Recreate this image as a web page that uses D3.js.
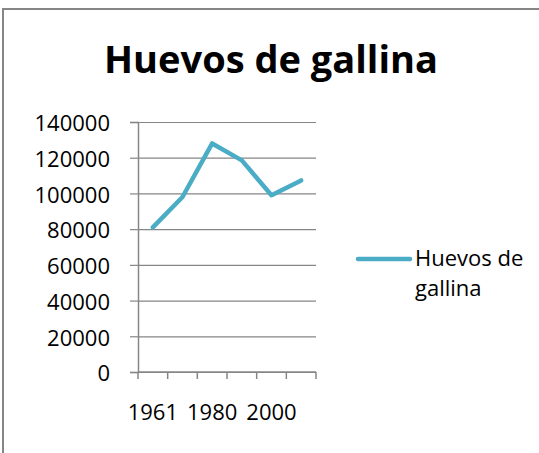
<!DOCTYPE html>
<html>
<head>
<meta charset="utf-8">
<script src="https://cdn.jsdelivr.net/npm/d3@7"></script>
<style>
  body { margin: 0; background: #fff; }
  text { font-family: "Open Sans", "Noto Sans", sans-serif; fill: #000; }
</style>
</head>
<body>
<div id="chart"></div>
<script>
// data
var years = ["1961", "1970", "1980", "1990", "2000", "2010"];
var shownYears = ["1961", "1980", "2000"];
var huevos = [81000, 98000, 128000, 118500, 99000, 107300];
var yTicks = [0, 20000, 40000, 60000, 80000, 100000, 120000, 140000];
var seriesName = "Huevos de gallina";

var width = 539, height = 453;
var grey = "#868686", blue = "#4BACC6";

var svg = d3.select("#chart").append("svg")
    .attr("width", width)
    .attr("height", height);

// outer chart border (only top and left visible)
svg.append("rect")
    .attr("x", 3).attr("y", 9)
    .attr("width", 600).attr("height", 600)
    .attr("fill", "none")
    .attr("stroke", grey)
    .attr("stroke-width", 2);

svg.append("text")
    .attr("x", 271).attr("y", 73)
    .attr("text-anchor", "middle")
    .style("font-size", "38px")
    .style("font-weight", "bold")
    .text(seriesName);

var x = d3.scaleBand().domain(years).range([138, 316]).padding(0);
var y = d3.scaleLinear().domain([0, 140000]).range([372, 122]);

// gridlines
svg.append("g")
    .attr("transform", "translate(138,0)")
    .call(d3.axisLeft(y).tickValues(yTicks).tickSize(-(316 - 138)).tickFormat(""))
    .call(function (g) {
        g.select(".domain").remove();
        g.selectAll("line").attr("stroke", grey).attr("stroke-width", 1.2);
    });

// y axis with labels
svg.append("g")
    .attr("transform", "translate(138,0)")
    .call(d3.axisLeft(y).tickValues(yTicks).tickSize(8).tickPadding(20).tickFormat(d3.format("d")))
    .call(function (g) {
        g.select(".domain").attr("stroke", grey).attr("stroke-width", 1.5);
        g.selectAll("line").attr("stroke", grey).attr("stroke-width", 1.2);
        g.selectAll("text").style("font-size", "22px").attr("font-family", null).attr("dy", "0.4em");
    });

// x axis line and ticks at category boundaries
var bounds = years.map(function (d) { return x(d); }).concat([x.range()[1]]);
svg.append("line")
    .attr("x1", 138).attr("x2", 316)
    .attr("y1", y(0)).attr("y2", y(0))
    .attr("stroke", grey).attr("stroke-width", 1.5);
svg.selectAll(".xtick")
    .data(bounds)
    .enter().append("line")
    .attr("class", "xtick")
    .attr("x1", function (d) { return d; })
    .attr("x2", function (d) { return d; })
    .attr("y1", y(0)).attr("y2", y(0) + 7)
    .attr("stroke", grey).attr("stroke-width", 1.5);

svg.selectAll(".xlabel")
    .data(shownYears)
    .enter().append("text")
    .attr("class", "xlabel")
    .attr("x", function (d) { return x(d) + x.bandwidth() / 2; })
    .attr("y", 420)
    .attr("text-anchor", "middle")
    .style("font-size", "22px")
    .text(function (d) { return d; });

// series line
var line = d3.line()
    .x(function (d, i) { return x(years[i]) + x.bandwidth() / 2; })
    .y(function (d) { return y(d); });

svg.append("path")
    .datum(huevos)
    .attr("d", line)
    .attr("fill", "none")
    .attr("stroke", blue)
    .attr("stroke-width", 4.5)
    .attr("stroke-linejoin", "round")
    .attr("stroke-linecap", "round");

// legend
var legend = svg.append("g");
legend.append("line")
    .attr("x1", 358).attr("x2", 410)
    .attr("y1", 259).attr("y2", 259)
    .attr("stroke", blue)
    .attr("stroke-width", 4.5)
    .attr("stroke-linecap", "round");
var lt = legend.append("text")
    .attr("x", 415).attr("y", 266)
    .style("font-size", "22px");
lt.append("tspan").attr("x", 415).text("Huevos de");
lt.append("tspan").attr("x", 415).attr("dy", 30).text("gallina");
</script>
</body>
</html>
